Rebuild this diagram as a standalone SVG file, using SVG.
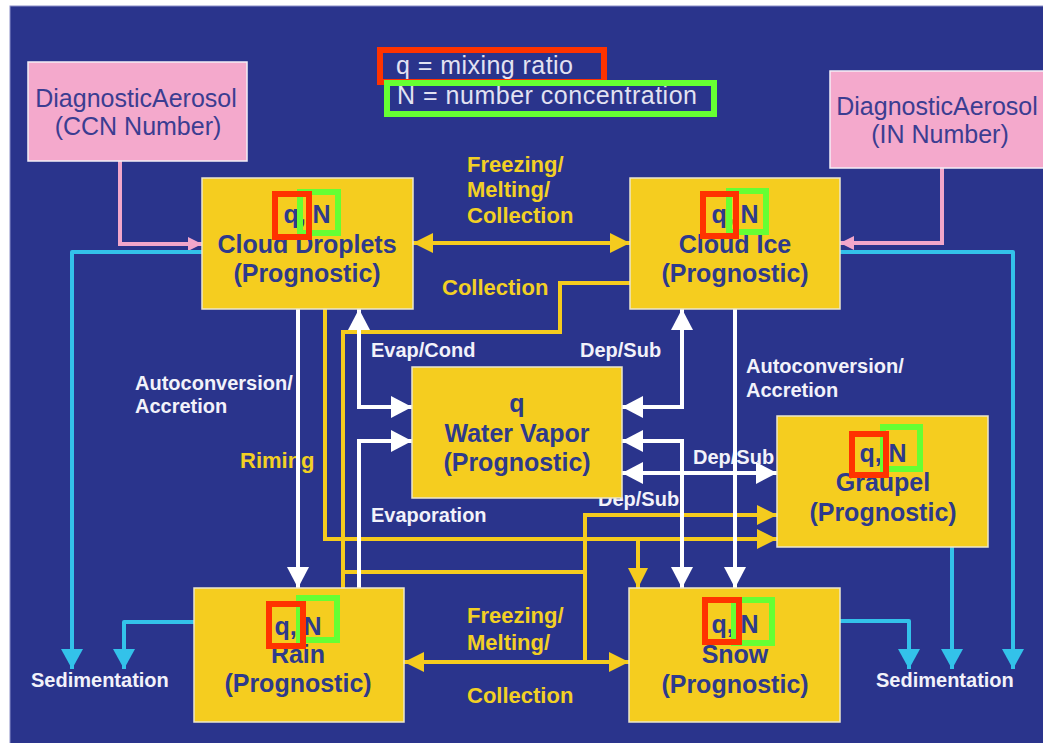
<svg xmlns="http://www.w3.org/2000/svg" width="1043" height="743" viewBox="0 0 1043 743">
<defs>
<style>
.bg{fill:#2a348c}
.pink{fill:#f4a9cc;stroke:#f4eef6;stroke-width:1.5}
.ybox{fill:#f5cd1f;stroke:#ece6cc;stroke-width:1.5}
.ptxt{font-family:"Liberation Sans",Arial,sans-serif;font-size:25px;fill:#3b3d91;text-anchor:middle}
.btxt{font-family:"Liberation Sans",Arial,sans-serif;font-size:25px;font-weight:bold;fill:#2e3a8c;text-anchor:middle}
.leg{font-family:"Liberation Sans",Arial,sans-serif;font-size:25px;fill:#e2e2f2}
.wl{font-family:"Liberation Sans",Arial,sans-serif;font-size:20px;font-weight:bold;fill:#f2f2fa}
.yl{font-family:"Liberation Sans",Arial,sans-serif;font-size:22px;font-weight:bold;fill:#f2d024}
.red{fill:none;stroke:#ff3300;stroke-width:6}
.grn{fill:none;stroke:#66ff33;stroke-width:6}
.cw{fill:none;stroke:#ffffff;stroke-width:4}
.cy{fill:none;stroke:#f5cb1e;stroke-width:4}
.cc{fill:none;stroke:#33c2ea;stroke-width:4;stroke-linejoin:round}
.cp{fill:none;stroke:#f2a6ca;stroke-width:4}
</style>
<marker id="aw" markerUnits="userSpaceOnUse" markerWidth="21" markerHeight="22" refX="21" refY="11" orient="auto-start-reverse"><path d="M0,0 L21,11 L0,22 z" fill="#ffffff"/></marker>
<marker id="ay" markerUnits="userSpaceOnUse" markerWidth="20" markerHeight="20" refX="20" refY="10" orient="auto-start-reverse"><path d="M0,0 L20,10 L0,20 z" fill="#f5cb1e"/></marker>
<marker id="ac" markerUnits="userSpaceOnUse" markerWidth="20" markerHeight="22" refX="20" refY="11" orient="auto-start-reverse"><path d="M0,0 L20,11 L0,22 z" fill="#33c2ea"/></marker>
<marker id="ap" markerUnits="userSpaceOnUse" markerWidth="14" markerHeight="14" refX="14" refY="7" orient="auto-start-reverse"><path d="M0,0 L14,7 L0,14 z" fill="#f2a6ca"/></marker>
</defs>
<rect x="0" y="0" width="1043" height="743" fill="#ffffff"/>
<rect class="bg" x="10" y="6" width="1040" height="760" stroke="#8a8ec8" stroke-width="1"/>

<g id="legend">
<text class="leg" x="396" y="74" textLength="177">q = mixing ratio</text>
<text class="leg" x="397" y="104" textLength="300">N = number concentration</text>
<rect class="red" x="380" y="50" width="224" height="32"/>
<rect class="grn" x="387" y="83" width="327" height="31"/>
</g>

<g id="labels">
<text class="yl" x="467" y="172">Freezing/</text>
<text class="yl" x="467" y="197">Melting/</text>
<text class="yl" x="467" y="223">Collection</text>
<text class="yl" x="442" y="295">Collection</text>
<text class="yl" x="240" y="468">Riming</text>
<text class="yl" x="467" y="623">Freezing/</text>
<text class="yl" x="467" y="650">Melting/</text>
<text class="yl" x="467" y="703">Collection</text>
<text class="wl" x="135" y="390">Autoconversion/</text>
<text class="wl" x="135" y="413">Accretion</text>
<text class="wl" x="746" y="373">Autoconversion/</text>
<text class="wl" x="746" y="397">Accretion</text>
<text class="wl" x="371" y="357">Evap/Cond</text>
<text class="wl" x="580" y="357">Dep/Sub</text>
<text class="wl" x="693" y="464">Dep/Sub</text>
<text class="wl" x="598" y="506">Dep/Sub</text>
<text class="wl" x="371" y="522">Evaporation</text>
<text class="wl" x="31" y="687">Sedimentation</text>
<text class="wl" x="876" y="687">Sedimentation</text>
</g>

<g id="connectors">
<path class="cp" d="M120,161 V244 H202" marker-end="url(#ap)"/>
<path class="cp" d="M942,168 V243 H840" marker-end="url(#ap)"/>
<path class="cc" d="M202,252 H72 V669" marker-end="url(#ac)"/>
<path class="cc" d="M194,622 H124 V669" marker-end="url(#ac)"/>
<path class="cc" d="M840,252 H1013 V669" marker-end="url(#ac)"/>
<path class="cc" d="M952,547 V669" marker-end="url(#ac)"/>
<path class="cc" d="M840,621 H909 V669" marker-end="url(#ac)"/>
<path class="cy" d="M413,243 H630" marker-start="url(#ay)" marker-end="url(#ay)"/>
<path class="cy" d="M404,662 H629" marker-start="url(#ay)" marker-end="url(#ay)"/>
<path class="cy" d="M630,283 H560 V332 H343 V588"/>
<path class="cy" d="M325,309 V539 H777" marker-end="url(#ay)"/>
<path class="cy" d="M638,539 V588" marker-end="url(#ay)"/>
<path class="cy" d="M343,572 H585"/>
<path class="cy" d="M585,662 V515 H777" marker-end="url(#ay)"/>
<path class="cw" d="M298,309 V588" marker-end="url(#aw)"/>
<path class="cw" d="M359,309 V407 H412" marker-start="url(#aw)" marker-end="url(#aw)"/>
<path class="cw" d="M359,588 V441 H412" marker-end="url(#aw)"/>
<path class="cw" d="M622,407 H682 V309" marker-start="url(#aw)" marker-end="url(#aw)"/>
<path class="cw" d="M622,441 H682 V588" marker-start="url(#aw)" marker-end="url(#aw)"/>
<path class="cw" d="M622,473 H777" marker-start="url(#aw)" marker-end="url(#aw)"/>
<path class="cw" d="M735,309 V588" marker-end="url(#aw)"/>
</g>

<g id="ccn">
<rect class="pink" x="28" y="62" width="219" height="99"/>
<text class="ptxt" x="136" y="107">DiagnosticAerosol</text>
<text class="ptxt" x="138" y="135">(CCN Number)</text>
</g>

<g id="in">
<rect class="pink" x="830" y="71" width="230" height="97"/>
<text class="ptxt" x="937" y="115">DiagnosticAerosol</text>
<text class="ptxt" x="940" y="143">(IN Number)</text>
</g>

<g id="cloud-droplets">
<rect class="ybox" x="202" y="178" width="211" height="131"/>
<text class="btxt" x="307" y="223">q, N</text>
<text class="btxt" x="307" y="253">Cloud Droplets</text>
<text class="btxt" x="307" y="282">(Prognostic)</text>
<rect class="grn" x="300" y="192" width="38" height="41"/>
<rect class="red" x="275" y="194" width="34" height="43"/>
</g>

<g id="cloud-ice">
<rect class="ybox" x="630" y="178" width="210" height="131"/>
<text class="btxt" x="735" y="223">q, N</text>
<text class="btxt" x="735" y="253">Cloud Ice</text>
<text class="btxt" x="735" y="282">(Prognostic)</text>
<rect class="grn" x="729" y="191" width="37" height="41"/>
<rect class="red" x="703" y="194" width="33" height="42"/>
</g>

<g id="water-vapor">
<rect class="ybox" x="412" y="367" width="210" height="131"/>
<text class="btxt" x="517" y="412">q</text>
<text class="btxt" x="517" y="442">Water Vapor</text>
<text class="btxt" x="517" y="471">(Prognostic)</text>
</g>

<g id="graupel">
<rect class="ybox" x="777" y="416" width="211" height="131"/>
<text class="btxt" x="883" y="462">q, N</text>
<text class="btxt" x="883" y="491">Graupel</text>
<text class="btxt" x="883" y="521">(Prognostic)</text>
<rect class="grn" x="883" y="427" width="37" height="42"/>
<rect class="red" x="852" y="434" width="34" height="41"/>
</g>

<g id="rain">
<rect class="ybox" x="194" y="588" width="210" height="134"/>
<text class="btxt" x="298" y="635">q, N</text>
<text class="btxt" x="298" y="663">Rain</text>
<text class="btxt" x="298" y="692">(Prognostic)</text>
<rect class="grn" x="299" y="598" width="38" height="42"/>
<rect class="red" x="269" y="604" width="34" height="42"/>
</g>

<g id="snow">
<rect class="ybox" x="629" y="588" width="211" height="134"/>
<text class="btxt" x="735" y="633">q, N</text>
<text class="btxt" x="735" y="663">Snow</text>
<text class="btxt" x="735" y="693">(Prognostic)</text>
<rect class="grn" x="734" y="600" width="38" height="43"/>
<rect class="red" x="705" y="600" width="34" height="42"/>
</g>
</svg>
